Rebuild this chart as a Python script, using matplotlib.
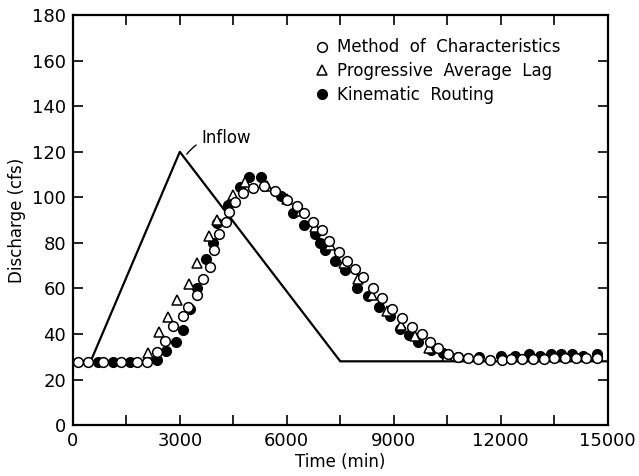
import numpy as np
import matplotlib
matplotlib.use("Agg")
import matplotlib.pyplot as plt
from matplotlib.ticker import MultipleLocator

# Inflow hydrograph (triangle)
inflow_t = [0, 500, 3000, 7500, 15000]
inflow_q = [28, 28, 120, 28, 28]

# Method of Characteristics (open circles)
moc_t = [150, 420, 840, 1350, 1790, 2080, 2355, 2580, 2800, 3080, 3225, 3475,
         3645, 3840, 3950, 4090, 4290, 4375, 4540, 4770, 5050, 5355, 5660, 6000,
         6280, 6480, 6730, 6980, 7180, 7460, 7680, 7910, 8130, 8410, 8660, 8945,
         9225, 9505, 9785, 10010, 10235, 10515, 10795, 11075, 11355, 11690, 12030,
         12300, 12600, 12900, 13200, 13500, 13800, 14100, 14400, 14700]
moc_q = [27.7, 27.7, 27.7, 27.7, 27.7, 27.8, 32, 37, 43.5, 48, 52, 57,
         64, 69.4, 77, 84, 89, 93.5, 98, 102, 104, 105, 103, 99,
         96, 93, 89, 85.6, 81, 76, 72, 68.5, 65, 60, 55.7, 51,
         47, 43, 40, 36.4, 33.8, 31, 29.8, 29.4, 29, 28.5, 28.5,
         28.8, 29, 29, 29.2, 29.4, 29.3, 29.5, 29.4, 29.4]

# Progressive Average Lag (open triangles)
pal_t = [2100, 2410, 2660, 2915, 3250, 3475, 3815, 4040, 4485, 4825, 5440, 6000,
         6400, 6800, 7200, 7600, 8000, 8400, 8800, 9200, 9600, 10000, 10500]
pal_q = [31.6, 40.8, 47.4, 55, 62, 71, 83, 90, 101, 106.7, 105, 99.5,
         94, 87, 79, 71, 64, 57, 50, 44, 39, 34, 30.5]

# Kinematic Routing (filled circles)
kr_t = [700, 1120, 1600, 2355, 2610, 2890, 3080, 3280, 3475, 3730, 3925, 4040,
        4350, 4680, 4935, 5270, 5830, 6170, 6480, 6785, 6925, 7065, 7345, 7625,
        7965, 8270, 8580, 8890, 9170, 9420, 9675, 10040, 10375, 10795, 11400,
        12000, 12400, 12800, 13100, 13400, 13700, 14000, 14300, 14700]
kr_q = [27.7, 27.7, 27.7, 28.5, 32.5, 36.4, 41.7, 51, 60, 73, 80, 88.7,
        96.6, 104.5, 108.9, 109, 100.5, 93, 88, 84, 80, 77, 72, 68,
        60, 56.6, 52, 48, 42, 39.5, 36.4, 33, 31.6, 30, 30,
        30.5, 30.5, 31, 30.5, 31, 31, 31, 30.5, 31]

fig = plt.figure(figsize=(6.39, 4.76), dpi=100)
ax = fig.add_axes([0.114, 0.107, 0.837, 0.861])

ax.plot(inflow_t, inflow_q, color="black", lw=1.6, zorder=2)
ax.plot(kr_t, kr_q, "o", ms=7, mfc="black", mec="black", zorder=3,
        label="Kinematic  Routing")
ax.plot(pal_t, pal_q, "^", ms=7, mfc="white", mec="black", mew=1.1, zorder=4,
        label="Progressive  Average  Lag")
ax.plot(moc_t, moc_q, "o", ms=7, mfc="white", mec="black", mew=1.1, zorder=5,
        label="Method  of  Characteristics")

ax.annotate("Inflow", xy=(3150, 118), xytext=(3600, 126), fontsize=12,
            ha="left", va="center",
            arrowprops=dict(arrowstyle="-", color="black", lw=1,
                            connectionstyle="arc3,rad=0.3"))

ax.set_xlim(0, 15000)
ax.set_ylim(0, 180)
ax.xaxis.set_major_locator(MultipleLocator(3000))
ax.xaxis.set_minor_locator(MultipleLocator(1500))
ax.yaxis.set_major_locator(MultipleLocator(20))
ax.tick_params(which="both", direction="in", length=7, width=1.2,
               top=True, right=True, labelsize=13, pad=5)
for s in ax.spines.values():
    s.set_linewidth(1.6)

ax.set_xlabel("Time (min)", fontsize=12, labelpad=2)
ax.set_ylabel("Discharge (cfs)", fontsize=12, labelpad=4)

h, l = ax.get_legend_handles_labels()
ax.legend(h[::-1], l[::-1], loc="upper left", bbox_to_anchor=(0.425, 0.98),
          frameon=False, fontsize=12, handlelength=0.8, handletextpad=0.5,
          labelspacing=0.35)

fig.savefig("out.png", dpi=100)
